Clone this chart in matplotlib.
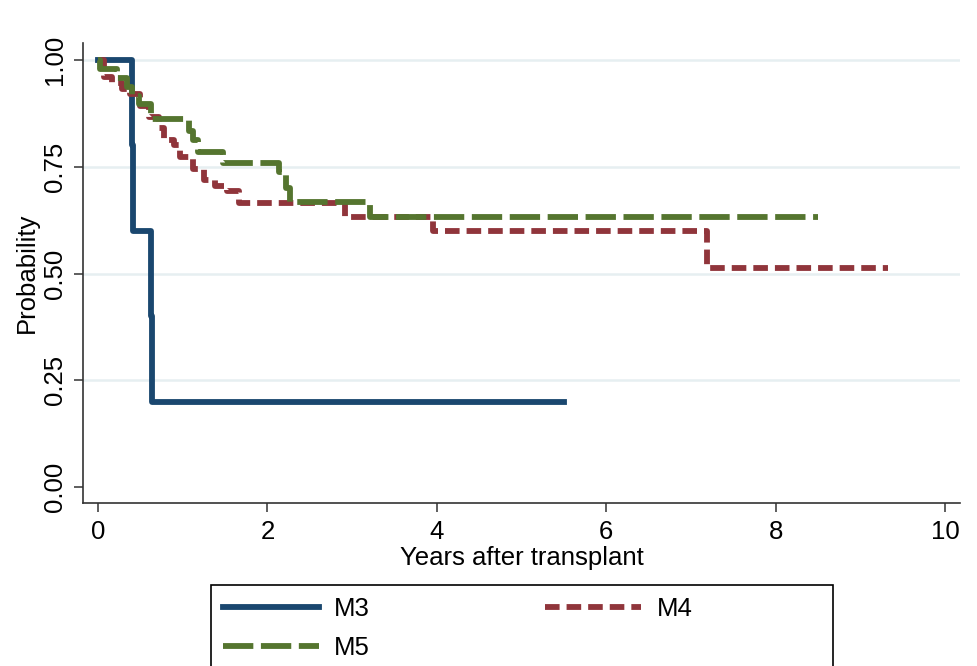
import matplotlib
matplotlib.use("Agg")
import matplotlib.pyplot as plt
from matplotlib.patches import Rectangle

plt.rcParams["font.family"] = ["Liberation Sans", "DejaVu Sans"]

# Kaplan-Meier step data
m3_t = [0, 0.40, 0.41, 0.62, 0.635, 5.50]
m3_s = [1.0, 0.8, 0.6, 0.4, 0.2, 0.2]

m4_t = [0, 0.07, 0.17, 0.28, 0.38, 0.50, 0.60, 0.72, 0.78, 0.90, 0.97,
        1.12, 1.25, 1.38, 1.52, 1.66, 2.92, 3.95, 7.19, 9.33]
m4_s = [1.0, 0.96, 0.946, 0.933, 0.92, 0.893, 0.866, 0.84, 0.813, 0.80, 0.773,
        0.746, 0.72, 0.706, 0.693, 0.666, 0.633, 0.599, 0.514, 0.514]

m5_t = [0, 0.02, 0.22, 0.34, 0.40, 0.48, 0.62, 1.07, 1.12, 1.18, 1.48,
        2.14, 2.22, 2.27, 3.21, 8.50]
m5_s = [1.0, 0.98, 0.958, 0.937, 0.916, 0.896, 0.862, 0.835, 0.813, 0.785, 0.759,
        0.737, 0.70, 0.667, 0.633, 0.633]

xticks = [0, 2, 4, 6, 8, 10]
yticks = [0.00, 0.25, 0.50, 0.75, 1.00]
grid_y = [0.25, 0.50, 0.75, 1.00]

navy, maroon, green = "#1a476f", "#90353b", "#55752f"
lw = 4.2

fig = plt.figure(figsize=(9.78, 6.66), dpi=100)
ax = fig.add_axes([83 / 978, 1 - 503 / 666, (960 - 83) / 978, (503 - 43) / 666])

for g in grid_y:
    ax.axhline(g, color="#e6eff1", lw=1.8, zorder=0)

l3, = ax.step(m3_t, m3_s, where="post", color=navy, lw=lw, label="M3",
              solid_joinstyle="round")
l4, = ax.step(m4_t, m4_s, where="post", color=maroon, lw=lw, label="M4",
              dashes=(2.5, 1.2))
l5, = ax.step(m5_t, m5_s, where="post", color=green, lw=lw, label="M5",
              dashes=(5.2, 1.3))

ax.set_xlim(-0.177, 10.177)
ax.set_ylim(-0.0375, 1.04)
ax.set_xticks(xticks)
ax.set_yticks(yticks)
ax.set_xticklabels([str(v) for v in xticks])
ax.set_yticklabels(["%.2f" % v for v in yticks], rotation=90, va="center")
ax.tick_params(axis="both", labelsize=18.5, length=6.5, width=1.1, color="#333333")
ax.tick_params(axis="y", pad=5)
ax.tick_params(axis="x", pad=6)

for side in ["top", "right"]:
    ax.spines[side].set_visible(False)
for side in ["left", "bottom"]:
    ax.spines[side].set_color("#333333")
    ax.spines[side].set_linewidth(1.2)

ax.set_xlabel("Years after transplant", fontsize=18.5, labelpad=1)
ax.set_ylabel("Probability", fontsize=18.5, labelpad=3)

# legend box (runs off the bottom edge like the reference)
fig.add_artist(Rectangle((211 / 978, -0.05), (833 - 211) / 978, 1 - 585 / 666 + 0.05,
                         transform=fig.transFigure, fill=False, edgecolor="black",
                         lw=1.2))
leg = fig.legend(handles=[l3, l5, l4], ncol=2, loc="upper left",
                 bbox_to_anchor=(211 / 978, 1 - 585 / 666),
                 fontsize=18.5, handlelength=3.75, handletextpad=0.6,
                 labelspacing=0.6, borderpad=0.45, columnspacing=6.8,
                 frameon=False, borderaxespad=0)

fig.savefig("out.png", dpi=100)
